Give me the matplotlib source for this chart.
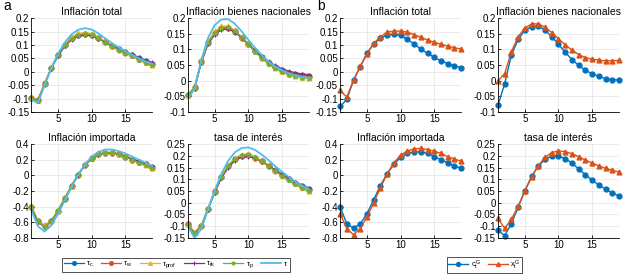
import numpy as np
import matplotlib.pyplot as plt
from matplotlib.ticker import FormatStrFormatter

plt.rcParams['font.family'] = ['Liberation Sans Narrow', 'Liberation Sans', 'DejaVu Sans']
plt.rcParams['mathtext.fontset'] = 'custom'
plt.rcParams['mathtext.rm'] = 'Liberation Sans'
plt.rcParams['mathtext.it'] = 'Liberation Sans'

periods = list(range(1, 20))

titles = ['Inflación total', 'Inflación bienes nacionales',
          'Inflación importada', 'tasa de interés']

# panel a -- one series per tax instrument
tot_c = [-0.098, -0.106, -0.044, 0.015, 0.063, 0.100, 0.125, 0.138, 0.141, 0.138, 0.125, 0.110, 0.096, 0.084, 0.073, 0.063, 0.050, 0.040, 0.031]
tot_w = [-0.097, -0.105, -0.043, 0.016, 0.064, 0.101, 0.126, 0.139, 0.142, 0.138, 0.125, 0.110, 0.096, 0.083, 0.072, 0.061, 0.049, 0.038, 0.029]
tot_prof = [-0.096, -0.104, -0.042, 0.018, 0.066, 0.104, 0.130, 0.143, 0.146, 0.142, 0.129, 0.113, 0.098, 0.085, 0.073, 0.061, 0.048, 0.037, 0.027]
tot_rk = [-0.099, -0.107, -0.046, 0.012, 0.059, 0.095, 0.120, 0.133, 0.137, 0.135, 0.124, 0.111, 0.098, 0.087, 0.076, 0.066, 0.054, 0.044, 0.035]
tot_p = [-0.098, -0.108, -0.045, 0.014, 0.062, 0.099, 0.124, 0.138, 0.142, 0.139, 0.126, 0.110, 0.095, 0.082, 0.070, 0.058, 0.046, 0.034, 0.024]
tot_tau = [-0.104, -0.116, -0.050, 0.014, 0.068, 0.110, 0.140, 0.157, 0.163, 0.158, 0.143, 0.125, 0.107, 0.091, 0.077, 0.063, 0.050, 0.039, 0.030]

nac_c = [-0.046, -0.022, 0.061, 0.122, 0.152, 0.168, 0.170, 0.157, 0.138, 0.116, 0.095, 0.075, 0.057, 0.045, 0.034, 0.026, 0.021, 0.018, 0.015]
nac_w = [-0.045, -0.021, 0.062, 0.123, 0.153, 0.169, 0.170, 0.158, 0.138, 0.116, 0.094, 0.074, 0.056, 0.043, 0.032, 0.024, 0.018, 0.015, 0.012]
nac_prof = [-0.044, -0.019, 0.065, 0.127, 0.158, 0.174, 0.175, 0.161, 0.141, 0.118, 0.095, 0.074, 0.056, 0.042, 0.031, 0.022, 0.016, 0.012, 0.010]
nac_rk = [-0.048, -0.025, 0.057, 0.117, 0.147, 0.163, 0.166, 0.155, 0.137, 0.117, 0.097, 0.078, 0.062, 0.049, 0.039, 0.031, 0.026, 0.022, 0.020]
nac_p = [-0.047, -0.023, 0.060, 0.121, 0.153, 0.170, 0.172, 0.159, 0.139, 0.116, 0.093, 0.072, 0.054, 0.040, 0.029, 0.020, 0.014, 0.010, 0.008]
nac_tau = [-0.056, -0.026, 0.065, 0.137, 0.178, 0.196, 0.197, 0.182, 0.158, 0.131, 0.105, 0.082, 0.062, 0.046, 0.034, 0.024, 0.017, 0.012, 0.009]

imp_c = [-0.40, -0.58, -0.65, -0.58, -0.45, -0.30, -0.14, 0.01, 0.13, 0.216, 0.27, 0.29, 0.29, 0.27, 0.24, 0.20, 0.17, 0.14, 0.11]
imp_w = [-0.40, -0.59, -0.65, -0.58, -0.45, -0.29, -0.13, 0.01, 0.13, 0.22, 0.27, 0.29, 0.29, 0.27, 0.24, 0.20, 0.17, 0.14, 0.10]
imp_prof = [-0.39, -0.58, -0.64, -0.58, -0.44, -0.29, -0.13, 0.02, 0.14, 0.22, 0.275, 0.295, 0.295, 0.275, 0.245, 0.205, 0.17, 0.13, 0.10]
imp_rk = [-0.41, -0.60, -0.66, -0.59, -0.46, -0.30, -0.14, 0.01, 0.13, 0.21, 0.265, 0.29, 0.29, 0.275, 0.245, 0.21, 0.18, 0.15, 0.12]
imp_p = [-0.39, -0.59, -0.66, -0.59, -0.45, -0.29, -0.13, 0.02, 0.13, 0.215, 0.27, 0.29, 0.29, 0.27, 0.235, 0.20, 0.16, 0.13, 0.09]
imp_tau = [-0.44, -0.65, -0.72, -0.64, -0.49, -0.32, -0.15, 0.01, 0.14, 0.24, 0.30, 0.33, 0.33, 0.31, 0.28, 0.24, 0.20, 0.16, 0.12]

tasa_c = [-0.092, -0.128, -0.099, -0.026, 0.047, 0.109, 0.156, 0.185, 0.199, 0.202, 0.192, 0.177, 0.158, 0.138, 0.119, 0.102, 0.086, 0.071, 0.058]
tasa_w = [-0.091, -0.127, -0.098, -0.025, 0.048, 0.110, 0.157, 0.186, 0.200, 0.202, 0.192, 0.176, 0.157, 0.137, 0.118, 0.100, 0.083, 0.068, 0.055]
tasa_prof = [-0.090, -0.126, -0.096, -0.022, 0.051, 0.114, 0.161, 0.191, 0.205, 0.207, 0.196, 0.179, 0.159, 0.138, 0.118, 0.099, 0.082, 0.066, 0.052]
tasa_rk = [-0.094, -0.131, -0.102, -0.030, 0.043, 0.104, 0.150, 0.179, 0.194, 0.197, 0.189, 0.175, 0.158, 0.140, 0.122, 0.105, 0.090, 0.076, 0.063]
tasa_p = [-0.092, -0.129, -0.100, -0.027, 0.047, 0.110, 0.157, 0.187, 0.202, 0.204, 0.193, 0.176, 0.156, 0.135, 0.114, 0.095, 0.078, 0.062, 0.048]
tasa_tau = [-0.100, -0.150, -0.112, -0.030, 0.052, 0.124, 0.179, 0.215, 0.233, 0.236, 0.225, 0.205, 0.181, 0.156, 0.132, 0.110, 0.090, 0.073, 0.058]

# panel b -- c_t^G vs x_t^G
tot_cg = [-0.129, -0.103, -0.031, 0.019, 0.069, 0.104, 0.125, 0.138, 0.140, 0.136, 0.121, 0.104, 0.085, 0.069, 0.054, 0.041, 0.031, 0.022, 0.016]
tot_xg = [-0.069, -0.094, -0.031, 0.021, 0.066, 0.106, 0.131, 0.148, 0.152, 0.152, 0.148, 0.139, 0.129, 0.119, 0.110, 0.103, 0.096, 0.090, 0.085]
nac_cg = [-0.079, -0.009, 0.082, 0.132, 0.162, 0.173, 0.175, 0.162, 0.141, 0.116, 0.091, 0.068, 0.049, 0.034, 0.022, 0.014, 0.007, 0.004, 0.002]
nac_xg = [0.000, 0.023, 0.093, 0.141, 0.168, 0.182, 0.182, 0.171, 0.154, 0.134, 0.115, 0.098, 0.084, 0.074, 0.069, 0.066, 0.064, 0.064, 0.065]
imp_cg = [-0.40, -0.62, -0.675, -0.62, -0.49, -0.31, -0.13, 0.02, 0.14, 0.234, 0.28, 0.30, 0.30, 0.28, 0.24, 0.20, 0.16, 0.12, 0.09]
imp_xg = [-0.49, -0.68, -0.76, -0.68, -0.53, -0.35, -0.16, 0.02, 0.16, 0.26, 0.31, 0.34, 0.345, 0.33, 0.31, 0.28, 0.24, 0.21, 0.18]
tasa_cg = [-0.118, -0.140, -0.089, -0.019, 0.051, 0.112, 0.156, 0.185, 0.198, 0.198, 0.188, 0.169, 0.144, 0.119, 0.096, 0.076, 0.057, 0.042, 0.029]
tasa_xg = [-0.067, -0.109, -0.070, -0.016, 0.051, 0.109, 0.158, 0.193, 0.214, 0.221, 0.218, 0.209, 0.196, 0.182, 0.169, 0.157, 0.147, 0.138, 0.131]

a_series = [
    [tot_c, tot_w, tot_prof, tot_rk, tot_p, tot_tau],
    [nac_c, nac_w, nac_prof, nac_rk, nac_p, nac_tau],
    [imp_c, imp_w, imp_prof, imp_rk, imp_p, imp_tau],
    [tasa_c, tasa_w, tasa_prof, tasa_rk, tasa_p, tasa_tau],
]
b_series = [
    [tot_cg, tot_xg],
    [nac_cg, nac_xg],
    [imp_cg, imp_xg],
    [tasa_cg, tasa_xg],
]
a_labels = [r'$\tau_c$', r'$\tau_w$', r'$\tau_{prof}$', r'$\tau_{rk}$', r'$\tau_p$', r'$\tau$']
b_labels = [r'$c_t^G$', r'$x_t^G$']

ylims = [(-0.15, 0.2), (-0.1, 0.2), (-0.8, 0.4), (-0.15, 0.25)]
ysteps = [0.05, 0.05, 0.2, 0.05]

blue, orange, yellow = '#0072BD', '#D95319', '#EDB120'
purple, green, cyan = '#7E2F8E', '#77AC30', '#4DBEEE'
a_styles = [
    dict(color=blue, marker='o'),
    dict(color=orange, marker='o'),
    dict(color=yellow, marker='^'),
    dict(color=purple, marker='+'),
    dict(color=green, marker='*'),
    dict(color=cyan, marker=None),
]
b_styles = [dict(color=blue, marker='o'), dict(color=orange, marker='^')]

fig = plt.figure(figsize=(6.24, 2.76), dpi=100)

lefts = [0.050, 0.301, 0.545, 0.798]
bottoms = [0.594, 0.138]
w, h = 0.194, 0.340


def style_axes(ax, k):
    lo, hi = ylims[k]
    ax.set_xlim(1, 19)
    ax.set_ylim(lo, hi)
    ax.set_xticks([5, 10, 15])
    n = int(round((hi - lo) / ysteps[k]))
    ax.set_yticks(np.round(np.linspace(lo, hi, n + 1), 3))
    ax.yaxis.set_major_formatter(FormatStrFormatter('%g'))
    ax.tick_params(direction='in', length=2, width=0.6, labelsize=7, pad=1.5)
    for s in ['top', 'right']:
        ax.spines[s].set_visible(False)
    for s in ['left', 'bottom']:
        ax.spines[s].set_linewidth(0.6)
    ax.grid(True, color='#e3e3e3', linewidth=0.5)
    ax.set_axisbelow(True)
    ax.set_title(titles[k], fontsize=7.5, pad=2)


a_handles = []
b_handles = []
for k in range(4):
    r, c = divmod(k, 2)
    ax = fig.add_axes([lefts[c], bottoms[r], w, h])
    for ser, st, lab in zip(a_series[k], a_styles, a_labels):
        lw = 1.3 if st['marker'] is None else 0.9
        ln, = ax.plot(periods, ser, color=st['color'], marker=st['marker'],
                      markersize=3.5, markerfacecolor=st['color'],
                      markeredgewidth=0.8, linewidth=lw, label=lab, clip_on=False)
        if k == 0:
            a_handles.append(ln)
    style_axes(ax, k)

    ax = fig.add_axes([lefts[c + 2], bottoms[r], w, h])
    for ser, st, lab in zip(b_series[k], b_styles, b_labels):
        ln, = ax.plot(periods, ser, color=st['color'], marker=st['marker'],
                      markersize=3.5, markerfacecolor=st['color'],
                      linewidth=1.0, label=lab, clip_on=False)
        if k == 0:
            b_handles.append(ln)
    style_axes(ax, k)

fig.text(0.006, 0.962, 'a', fontsize=10)
fig.text(0.508, 0.962, 'b', fontsize=10)

leg_kw = dict(fontsize=5.5, frameon=True, fancybox=False, edgecolor='black',
              handlelength=2.6, handletextpad=0.3, columnspacing=1.0,
              borderpad=0.2, markerscale=0.8, loc='center')
la = fig.legend(handles=a_handles, ncol=6, bbox_to_anchor=(0.282, 0.04), **leg_kw)
la.get_frame().set_linewidth(0.6)
lb = fig.legend(handles=b_handles, ncol=2, bbox_to_anchor=(0.776, 0.04), **leg_kw)
lb.get_frame().set_linewidth(0.6)

fig.savefig('out.png', dpi=100)
